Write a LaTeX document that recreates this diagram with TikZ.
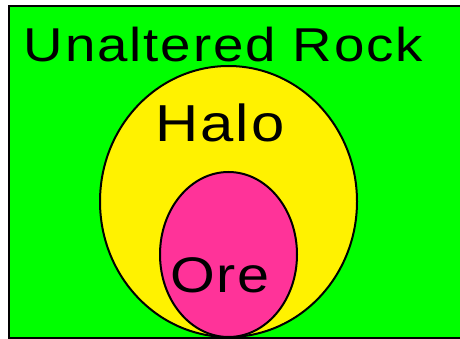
\documentclass[tikz,border=0pt]{standalone}
\usepackage{fontspec}
\setmainfont{Liberation Sans}[FakeStretch=1.15,LetterSpace=4]
\usetikzlibrary{shapes.geometric}
\begin{document}
\begin{tikzpicture}[x=1pt,y=-1pt,
  region/.style={draw=black,line width=2pt},
  lbl/.style={anchor=base,inner sep=0pt,font=\fontsize{47.5}{50}\selectfont}]
\useasboundingbox (0,0) rectangle (460,339);
\fill[white] (0,0) rectangle (460,339);
\node[region,fill=green,minimum width=456pt,minimum height=332pt,anchor=north west,inner sep=0pt] (rock) at (8,5) {};
\node[region,fill=yellow,ellipse,minimum width=257pt,minimum height=271pt,inner sep=0pt] (halo) at (228.5,201.5) {};
\node[region,fill={rgb,255:red,255;green,51;blue,153},ellipse,minimum width=137pt,minimum height=165pt,inner sep=0pt] (ore) at (228.5,254.5) {};
\node[lbl] (t1) at (223.5,62) {Unaltered Rock};
\node[lbl,font=\fontsize{52}{55}\selectfont] (t2) at (220,142) {Halo};
\node[lbl,font=\fontsize{50}{53}\selectfont] (t3) at (220,292) {Ore};
\end{tikzpicture}
\end{document}
